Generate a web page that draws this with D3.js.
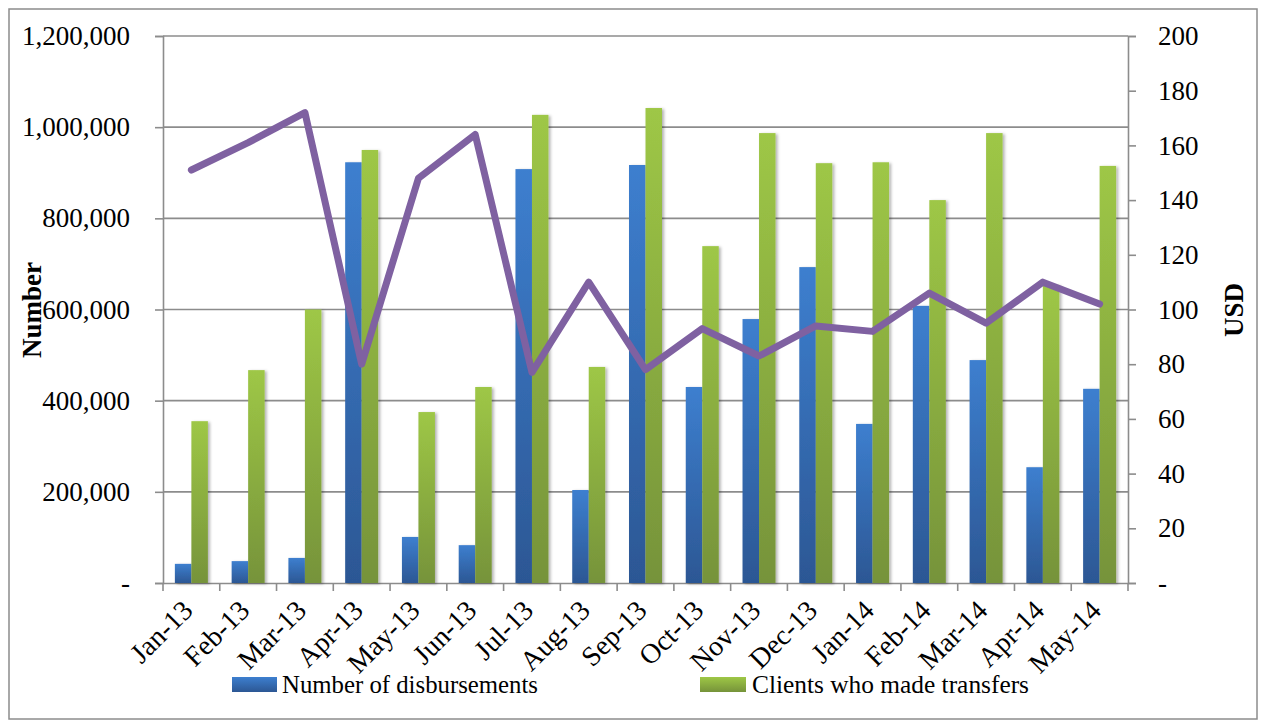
<!DOCTYPE html>
<html>
<head>
<meta charset="utf-8">
<script src="https://cdn.jsdelivr.net/npm/d3@7"></script>
<style>
  html, body { margin: 0; padding: 0; background: #fff; }
  svg { display: block; }
  text { font-family: "Liberation Serif", "Times New Roman", serif; fill: #000; }
</style>
</head>
<body>
<svg id="chart" width="1262" height="723"></svg>
<script>
const months = ["Jan-13","Feb-13","Mar-13","Apr-13","May-13","Jun-13","Jul-13","Aug-13","Sep-13","Oct-13","Nov-13","Dec-13","Jan-14","Feb-14","Mar-14","Apr-14","May-14"];
const disbursements = [42000, 48000, 55000, 923000, 101000, 83000, 908000, 204000, 917000, 430000, 579000, 693000, 349000, 608000, 489000, 254000, 426000];
const clients = [355000, 467000, 600000, 950000, 375000, 430000, 1027000, 474000, 1042000, 739000, 987000, 921000, 923000, 840000, 987000, 654000, 915000];
const usd = [151, 161, 172, 80, 148, 164, 77, 110, 78, 93, 83, 94, 92, 106, 95, 110, 102];
const leftTicks = [0, 200000, 400000, 600000, 800000, 1000000, 1200000];
const rightTicks = [0, 20, 40, 60, 80, 100, 120, 140, 160, 180, 200];
const seriesNames = ["Number of disbursements", "Clients who made transfers"];
const axisTitles = ["Number", "USD"];

const svg = d3.select("#chart");
const L = 163, R = 1128, T = 36, B = 583;
const grey = "#8c8c8c";

// defs: gradients + shadow
const defs = svg.append("defs");
function grad(id, top, bottom) {
  const g = defs.append("linearGradient").attr("id", id).attr("x1", 0).attr("y1", 0).attr("x2", 0).attr("y2", 1);
  g.append("stop").attr("offset", "0%").attr("stop-color", top);
  g.append("stop").attr("offset", "100%").attr("stop-color", bottom);
}
grad("gBlue", "#3d7fcf", "#2c5794");
grad("gGreen", "#9ec746", "#76933a");
const f = defs.append("filter").attr("id", "shadow").attr("x", "-30%").attr("y", "-5%").attr("width", "160%").attr("height", "110%");
f.append("feDropShadow").attr("dx", 2).attr("dy", 1).attr("stdDeviation", 1.6).attr("flood-color", "#000").attr("flood-opacity", 0.3);

// outer border
svg.append("rect").attr("x", 9).attr("y", 9).attr("width", 1248).attr("height", 710)
  .attr("fill", "none").attr("stroke", grey).attr("stroke-width", 1.5);

const x = d3.scaleBand().domain(months).range([L, R]).padding(0);
const yL = d3.scaleLinear().domain([0, 1200000]).range([B, T]);
const yR = d3.scaleLinear().domain([0, 200]).range([B, T]);

// gridlines
svg.append("g").selectAll("line").data(leftTicks.filter(d => d > 0)).join("line")
  .attr("x1", L).attr("x2", R).attr("y1", d => yL(d)).attr("y2", d => yL(d))
  .attr("stroke", grey).attr("stroke-width", 1.6);

// left axis
const axL = svg.append("g").attr("transform", `translate(${L},0)`)
  .call(d3.axisLeft(yL).tickValues(leftTicks).tickSize(8).tickPadding(25)
    .tickFormat(d => d === 0 ? "-" : d3.format(",")(d)));
axL.select(".domain").attr("stroke", grey).attr("stroke-width", 1.6);
axL.selectAll(".tick line").attr("stroke", grey).attr("stroke-width", 1.6);
axL.selectAll(".tick text").attr("font-size", 27).attr("font-family", "Liberation Serif").attr("fill", "#000");

// right axis
const axR = svg.append("g").attr("transform", `translate(${R},0)`)
  .call(d3.axisRight(yR).tickValues(rightTicks).tickSize(8).tickPadding(22)
    .tickFormat(d => d === 0 ? "-" : d));
axR.select(".domain").attr("stroke", grey).attr("stroke-width", 1.6);
axR.selectAll(".tick line").attr("stroke", grey).attr("stroke-width", 1.6);
axR.selectAll(".tick text").attr("font-size", 27).attr("font-family", "Liberation Serif").attr("fill", "#000");

// bottom axis
const axB = svg.append("g").attr("transform", `translate(0,${B})`)
  .call(d3.axisBottom(x).tickSize(0).tickFormat(""));
axB.select(".domain").attr("stroke", grey).attr("stroke-width", 1.6);
const bounds = months.map(m => x(m)).concat([R]);
svg.append("g").selectAll("line").data(bounds).join("line")
  .attr("x1", d => d).attr("x2", d => d).attr("y1", B).attr("y2", B + 8)
  .attr("stroke", grey).attr("stroke-width", 1.6);

// x labels
svg.append("g").selectAll("text").data(months).join("text")
  .attr("transform", d => `translate(${x(d) + x.bandwidth() / 2 + 3},${B + 29}) rotate(-45)`)
  .attr("text-anchor", "end").attr("font-size", 28).text(d => d);

// bars
const bw = 16.5;
const bars = svg.append("g").attr("filter", "url(#shadow)");
bars.selectAll("rect.b").data(months).join("rect").attr("class", "b")
  .attr("x", d => x(d) + x.bandwidth() / 2 - bw)
  .attr("width", bw)
  .attr("y", (d, i) => yL(disbursements[i]))
  .attr("height", (d, i) => B - yL(disbursements[i]))
  .attr("fill", "url(#gBlue)");
bars.selectAll("rect.g").data(months).join("rect").attr("class", "g")
  .attr("x", d => x(d) + x.bandwidth() / 2)
  .attr("width", bw)
  .attr("y", (d, i) => yL(clients[i]))
  .attr("height", (d, i) => B - yL(clients[i]))
  .attr("fill", "url(#gGreen)");

// line
const line = d3.line().x((d, i) => x(months[i]) + x.bandwidth() / 2).y(d => yR(d));
svg.append("path").datum(usd).attr("d", line)
  .attr("fill", "none").attr("stroke", "#7f61a1").attr("stroke-width", 7)
  .attr("stroke-linejoin", "round").attr("stroke-linecap", "round");

// axis titles
svg.append("text").attr("transform", "translate(41,310) rotate(-90)")
  .attr("text-anchor", "middle").attr("font-size", 27).attr("font-weight", "bold").text(axisTitles[0]);
svg.append("text").attr("transform", "translate(1243,310) rotate(-90)")
  .attr("text-anchor", "middle").attr("font-size", 27).attr("font-weight", "bold").text(axisTitles[1]);

// legend
const leg = svg.append("g");
leg.append("rect").attr("x", 232).attr("y", 677).attr("width", 45).attr("height", 15).attr("fill", "url(#gBlue)");
leg.append("text").attr("x", 282).attr("y", 693).attr("font-size", 26).attr("textLength", 256).attr("lengthAdjust", "spacingAndGlyphs").text(seriesNames[0]);
leg.append("rect").attr("x", 700).attr("y", 677).attr("width", 46).attr("height", 15).attr("fill", "url(#gGreen)");
leg.append("text").attr("x", 752).attr("y", 693).attr("font-size", 26).attr("textLength", 277).attr("lengthAdjust", "spacingAndGlyphs").text(seriesNames[1]);
</script>
</body>
</html>
